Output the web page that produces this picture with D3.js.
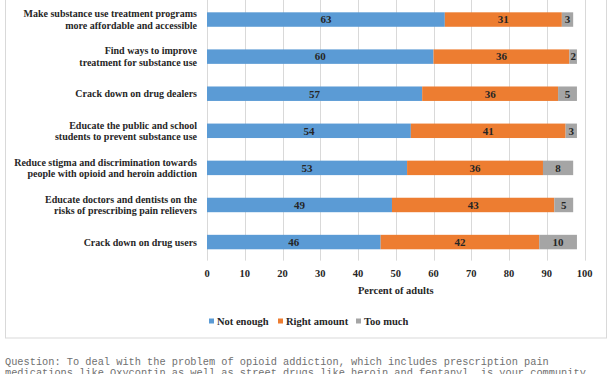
<!DOCTYPE html>
<html>
<head>
<meta charset="utf-8">
<script src="https://cdn.jsdelivr.net/npm/d3@7"></script>
<style>
  body { margin: 0; background: #fff; }
  svg { display: block; }
</style>
</head>
<body>
<div id="chart"></div>
<script>
// Survey items, top to bottom (line breaks as in the original labels)
const categories = [
  ["Make substance use treatment programs", "more affordable and accessible"],
  ["Find ways to improve", "treatment for substance use"],
  ["Crack down on drug dealers"],
  ["Educate the public and school", "students to prevent substance use"],
  ["Reduce stigma and discrimination towards", "people with opioid and heroin addiction"],
  ["Educate doctors and dentists on the", "risks of prescribing pain relievers"],
  ["Crack down on drug users"]
];
const seriesNames = ["Not enough", "Right amount", "Too much"];
const notEnough = [63, 60, 57, 54, 53, 49, 46];
const rightAmount = [31, 36, 36, 41, 36, 43, 42];
const tooMuch = [3, 2, 5, 3, 8, 5, 10];
const xTicks = [0, 10, 20, 30, 40, 50, 60, 70, 80, 90, 100];
const questionLines = [
  "Question: To deal with the problem of opioid addiction, which includes prescription pain",
  "medications like Oxycontin as well as street drugs like heroin and fentanyl, is your community"
];

const colors = ["#5b9bd5", "#ed7d31", "#a5a5a5"];
const labelFont = "'Liberation Serif', 'Times New Roman', serif";

const width = 612;
const height = 374;

const svg = d3.select("#chart").append("svg")
  .attr("width", width)
  .attr("height", height);

// chart frame
svg.append("rect")
  .attr("x", 5.5)
  .attr("y", -10)
  .attr("width", 601)
  .attr("height", 348)
  .attr("fill", "none")
  .attr("stroke", "#d9d9d9");

const rows = categories.map((c, i) => ({
  key: i,
  label: c,
  values: [notEnough[i], rightAmount[i], tooMuch[i]]
}));

const x = d3.scaleLinear().domain([0, 100]).range([207, 584.5]);
const y = d3.scaleBand()
  .domain(rows.map(d => d.key))
  .range([1, 260.6])
  .paddingInner(0.61)
  .paddingOuter(0.305);

// grid lines
svg.append("g")
  .attr("stroke", "#d9d9d9")
  .selectAll("line")
  .data(xTicks)
  .join("line")
  .attr("x1", d => Math.round(x(d)) + 0.5)
  .attr("x2", d => Math.round(x(d)) + 0.5)
  .attr("y1", 0)
  .attr("y2", 260.6);

// stacked bars
const stacked = d3.stack()
  .keys([0, 1, 2])
  .value((d, k) => d.values[k])(rows);

const layer = svg.append("g")
  .selectAll("g")
  .data(stacked)
  .join("g")
  .attr("fill", (d, i) => colors[i]);

layer.selectAll("rect")
  .data(d => d)
  .join("rect")
  .attr("x", d => x(d[0]))
  .attr("width", d => x(d[1]) - x(d[0]))
  .attr("y", d => y(d.data.key))
  .attr("height", y.bandwidth());

// value labels
layer.selectAll("text")
  .data(d => d)
  .join("text")
  .attr("x", d => (x(d[0]) + x(d[1])) / 2)
  .attr("y", d => y(d.data.key) + y.bandwidth() / 2)
  .attr("dy", "0.35em")
  .attr("text-anchor", "middle")
  .attr("fill", "#262626")
  .attr("font-family", labelFont)
  .attr("font-weight", "bold")
  .attr("font-size", 11)
  .text(d => d[1] - d[0]);

// category labels
const catLabel = svg.append("g")
  .attr("font-family", labelFont)
  .attr("font-weight", "bold")
  .attr("font-size", 10)
  .attr("fill", "#262626")
  .attr("text-anchor", "end")
  .selectAll("text")
  .data(rows)
  .join("text")
  .attr("x", 197)
  .attr("y", d => y(d.key) + y.bandwidth() / 2);

catLabel.selectAll("tspan")
  .data(d => d.label.map((t, i) => ({ t, i, n: d.label.length })))
  .join("tspan")
  .attr("x", 197)
  .attr("dy", d => d.i === 0 ? (0.35 - (d.n - 1) * 0.58) + "em" : "1.16em")
  .text(d => d.t);

// x axis tick labels
svg.append("g")
  .attr("font-family", labelFont)
  .attr("font-weight", "bold")
  .attr("font-size", 10.5)
  .attr("fill", "#262626")
  .attr("text-anchor", "middle")
  .selectAll("text")
  .data(xTicks)
  .join("text")
  .attr("x", d => x(d))
  .attr("y", 273)
  .attr("dy", "0.35em")
  .text(d => d);

svg.append("text")
  .attr("x", (x(0) + x(100)) / 2)
  .attr("y", 290)
  .attr("dy", "0.35em")
  .attr("text-anchor", "middle")
  .attr("font-family", labelFont)
  .attr("font-weight", "bold")
  .attr("font-size", 10.5)
  .attr("fill", "#262626")
  .text("Percent of adults");

// legend
const legendX = [209, 278, 356];
const legend = svg.append("g")
  .selectAll("g")
  .data(seriesNames)
  .join("g")
  .attr("transform", (d, i) => `translate(${legendX[i]},321)`);

legend.append("rect")
  .attr("x", 0)
  .attr("y", -2.5)
  .attr("width", 5)
  .attr("height", 5)
  .attr("fill", (d, i) => colors[i]);

legend.append("text")
  .attr("x", 8)
  .attr("dy", "0.35em")
  .attr("font-family", labelFont)
  .attr("font-weight", "bold")
  .attr("font-size", 10.5)
  .attr("fill", "#262626")
  .text(d => d);

// question text under the chart
svg.append("g")
  .attr("font-family", "'Liberation Mono', 'Courier New', monospace")
  .attr("font-size", 10.3)
  .attr("fill", "#707070")
  .selectAll("text")
  .data(questionLines)
  .join("text")
  .attr("x", 5)
  .attr("y", (d, i) => 364.5 + i * 11.5)
  .text(d => d);
</script>
</body>
</html>
